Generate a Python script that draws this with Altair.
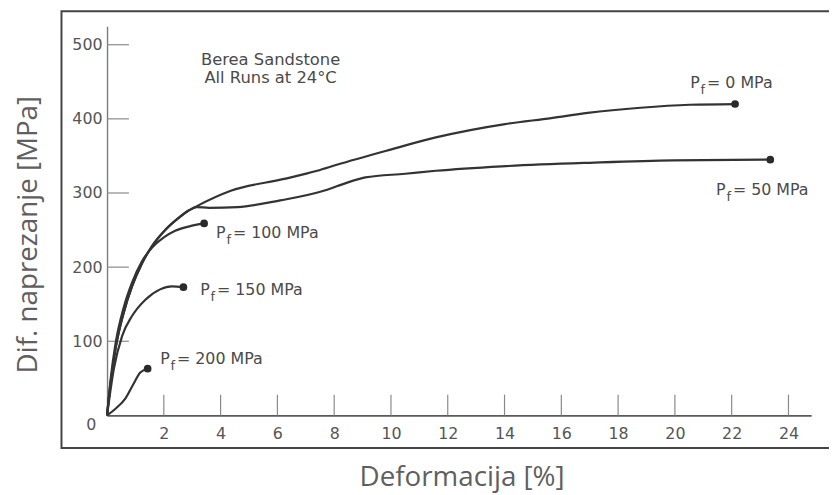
import altair as alt
import pandas as pd

# ---- data ----
series_names = ["0", "50", "100", "150", "200"]

pf0_x = [0, 0.13, 0.3, 0.59, 0.88, 1.23, 1.58, 2.05, 2.51, 2.86, 3.15, 4.36, 6.24, 7.4, 8.09, 9.84, 11.58, 14.02, 15.65, 16.93, 18.79, 20.53, 22.12]
pf0_y = [0, 45, 90, 139, 174, 205, 228, 250, 266, 276, 282, 303, 319, 330, 338, 357, 375, 393, 401, 408, 415, 419, 420]

pf50_x = [0, 0.13, 0.3, 0.59, 0.88, 1.23, 1.58, 2.05, 2.51, 2.86, 3.15, 3.6, 4.6, 6.1, 7.63, 8.09, 8.79, 9.1, 10.5, 11.58, 13.9, 17.16, 19.95, 23.36]
pf50_y = [0, 45, 90, 139, 174, 205, 228, 250, 266, 276, 281, 280, 281, 290, 303, 309, 318, 321, 326, 330, 336, 341, 344, 345]

pf100_x = [0, 0.13, 0.3, 0.59, 0.88, 1.23, 1.58, 2.0, 2.4, 2.9, 3.42]
pf100_y = [0, 50, 97, 146, 179, 208, 226, 240, 249, 255, 259]

pf150_x = [0, 0.24, 0.53, 0.88, 1.35, 1.87, 2.28, 2.69]
pf150_y = [0, 63, 107, 134, 156, 170, 174, 173]

pf200_x = [0, 0.3, 0.65, 0.94, 1.17, 1.43]
pf200_y = [0, 9, 23, 43, 58, 63]

x_ticks = [2, 4, 6, 8, 10, 12, 14, 16, 18, 20, 22, 24]
y_ticks = [100, 200, 300, 400, 500]

label_x = [20.54, 21.45, 3.84, 3.28, 1.87]
label_y = [441, 297, 239, 163, 69]

note_lines = ["Berea Sandstone", "All Runs at 24°C"]
note_x = [5.76, 5.76]
note_y = [480, 455]

# ---- tables ----
xs = [pf0_x, pf50_x, pf100_x, pf150_x, pf200_x]
ys = [pf0_y, pf50_y, pf100_y, pf150_y, pf200_y]
rows = []
for name, sx, sy in zip(series_names, xs, ys):
    for i, (a, b) in enumerate(zip(sx, sy)):
        rows.append({"series": name, "x": a, "y": b, "i": i})
curves = pd.DataFrame(rows)
ends = pd.DataFrame({"series": series_names,
                     "x": [s[-1] for s in xs], "y": [s[-1] for s in ys]})
labels = pd.DataFrame({"series": series_names, "x": label_x, "y": label_y,
                       "rest": ["= " + s + " MPa" for s in series_names]})
notes = pd.DataFrame({"t": note_lines, "x": note_x, "y": note_y})
xt = pd.DataFrame({"x": x_ticks})
yt = pd.DataFrame({"y": y_ticks})

W, H = 711, 393
XD = [0, 24.8]
YD = [0, 525]
FONT = "DejaVu Sans"
TXT = "#4a4a4a"
LINE = "#333333"

xscale = alt.Scale(domain=XD, nice=False, zero=False)
yscale = alt.Scale(domain=YD, nice=False, zero=False)

xaxis = alt.Axis(values=x_ticks, grid=False, ticks=False, tickSize=0,
                 domainColor="#5a5a5a", domainWidth=1.6,
                 labelFont=FONT, labelFontSize=16, labelColor="#555555",
                 labelPadding=10, labelFlush=False, labelOverlap=False,
                 title="Deformacija [%]", titleFont="Open Sans", titleFontSize=28,
                 titleFontWeight="normal", titleColor="#5f5f5f",
                 titleX=358, titleY=71, titleAlign="center", titleBaseline="alphabetic")
yaxis = alt.Axis(values=y_ticks, grid=False, ticks=False, tickSize=0,
                 domainColor="#7a7a7a", domainWidth=1.4,
                 labelFont=FONT, labelFontSize=16, labelColor="#555555",
                 labelPadding=5, labelOverlap=False,
                 title="Dif. naprezanje [MPa]", titleFont="Open Sans", titleFontSize=28,
                 titleFontWeight="normal", titleColor="#5f5f5f",
                 titleX=-71, titleY=210, titleAngle=270, titleAlign="center",
                 titleBaseline="alphabetic")

frame = alt.Chart(pd.DataFrame({"k": [0]})).mark_rect(
    fillOpacity=0, stroke="#444444", strokeWidth=2
).encode(x=alt.value(-46), x2=alt.value(760), y=alt.value(-15), y2=alt.value(426))

xtick_layer = alt.Chart(xt).mark_rule(color="#8a8a8a", strokeWidth=1.2).encode(
    x=alt.X("x:Q", scale=xscale, axis=xaxis),
    y=alt.datum(0, scale=yscale), y2=alt.datum(28))
ytick_layer = alt.Chart(yt).mark_rule(color="#8a8a8a", strokeWidth=1.2).encode(
    y=alt.Y("y:Q", scale=yscale, axis=yaxis),
    x=alt.datum(0), x2=alt.datum(0.77))

lines = alt.Chart(curves).mark_line(color=LINE, strokeWidth=2.2, interpolate="monotone").encode(
    x=alt.X("x:Q", scale=xscale), y=alt.Y("y:Q", scale=yscale),
    detail="series:N", order="i:Q")

dots = alt.Chart(ends).mark_circle(color="#2a2a2a", size=60, opacity=1).encode(
    x=alt.X("x:Q", scale=xscale), y=alt.Y("y:Q", scale=yscale))

lab_p = alt.Chart(labels).mark_text(text="P", font=FONT, fontSize=16, color=TXT,
                                    align="left", baseline="alphabetic").encode(
    x=alt.X("x:Q", scale=xscale), y=alt.Y("y:Q", scale=yscale))
lab_f = alt.Chart(labels).mark_text(text="f", font=FONT, fontSize=13, color=TXT,
                                    align="left", baseline="alphabetic", dx=10.5, dy=6).encode(
    x=alt.X("x:Q", scale=xscale), y=alt.Y("y:Q", scale=yscale))
lab_r = alt.Chart(labels).mark_text(font=FONT, fontSize=16, color=TXT,
                                    align="left", baseline="alphabetic", dx=17).encode(
    x=alt.X("x:Q", scale=xscale), y=alt.Y("y:Q", scale=yscale), text="rest:N")

note = alt.Chart(notes).mark_text(font=FONT, fontSize=16.5, color=TXT,
                                  align="center", baseline="middle").encode(
    x=alt.X("x:Q", scale=xscale), y=alt.Y("y:Q", scale=yscale), text="t:N")

zero = alt.Chart(pd.DataFrame({"k": [0]})).mark_text(
    text="0", font=FONT, fontSize=16, color="#555555", align="center",
    baseline="middle", dx=-16, dy=10).encode(x=alt.datum(0), y=alt.datum(0))

chart = alt.layer(frame, xtick_layer, ytick_layer, lines, dots, lab_p, lab_f, lab_r,
                  note, zero).properties(
    width=W, height=H,
    autosize=alt.AutoSizeParams(type="none"),
    padding={"left": 100, "top": 16, "right": 18, "bottom": 78},
    background="white",
).configure_view(stroke=None)

chart.save("out.html", embed_options={"renderer": "svg", "actions": False})
